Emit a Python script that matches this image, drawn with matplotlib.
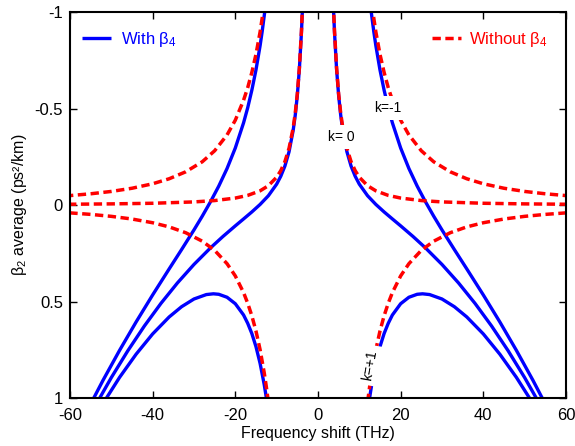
import matplotlib
matplotlib.use("Agg")
import matplotlib.pyplot as plt
from matplotlib.lines import Line2D

plt.rcParams['font.family'] = ['Liberation Sans', 'DejaVu Sans']
plt.rcParams['mathtext.fontset'] = 'custom'
plt.rcParams['mathtext.rm'] = 'Liberation Sans'
plt.rcParams['mathtext.it'] = 'Liberation Sans:italic'

# ---- data (positive-frequency branch; curves are symmetric in frequency shift) ----
# Without beta4 (red dashed)
red_k0_x = [3.7, 4, 4.5, 5, 5.5, 6, 7, 8, 9, 10, 12, 14, 17, 20, 25, 30, 40, 50, 60]
red_k0_y = [-1.052, -0.9, -0.711, -0.576, -0.476, -0.4, -0.294, -0.225, -0.178, -0.144,
            -0.1, -0.0735, -0.0498, -0.036, -0.023, -0.016, -0.009, -0.0058, -0.004]
red_km1_x = [13, 14, 15, 16, 17, 18, 20, 22, 25, 28, 32, 36, 40, 45, 50, 55, 60]
red_km1_y = [-1.040, -0.897, -0.781, -0.687, -0.608, -0.543, -0.4395, -0.363, -0.281, -0.224,
             -0.172, -0.136, -0.110, -0.0868, -0.0703, -0.0581, -0.0488]
red_kp1_x = [12, 12.5, 13, 14, 15, 16, 17, 18, 20, 22, 25, 28, 32, 36, 40, 45, 50, 55, 60]
red_kp1_y = [1.021, 0.941, 0.870, 0.75, 0.653, 0.574, 0.509, 0.454, 0.3675, 0.304, 0.235,
             0.1875, 0.1436, 0.1134, 0.0919, 0.0726, 0.0588, 0.0486, 0.0408]

# With beta4 (blue solid)
blue_k0_x = [3.75, 4, 4.5, 5, 5.5, 6, 7, 8, 9, 10, 12, 14, 16, 18, 20, 23, 26, 30, 34, 38, 42, 46, 50, 54]
blue_k0_y = [-1.019, -0.894, -0.704, -0.567, -0.465, -0.387, -0.276, -0.202, -0.149, -0.108,
             -0.048, -0.003, 0.0359, 0.0722, 0.108, 0.1632, 0.2221, 0.308, 0.4037, 0.5099,
             0.6269, 0.755, 0.8942, 1.045]
blue_km1_x = [12.8, 13.5, 14, 15, 16, 17, 18, 20, 22, 24, 26, 28, 30, 33, 36, 40, 44, 48, 52, 55]
blue_km1_y = [-1.014, -0.899, -0.826, -0.700, -0.595, -0.504, -0.426, -0.2955, -0.189, -0.098,
              -0.017, 0.058, 0.129, 0.231, 0.331, 0.466, 0.606, 0.753, 0.908, 1.031]
blue_kp1_x = [12.4, 13, 14, 15, 16, 17, 18, 20, 22, 24, 25.3, 27, 30, 33, 36, 40, 44, 48, 52]
blue_kp1_y = [1.011, 0.931, 0.821, 0.734, 0.666, 0.613, 0.570, 0.5115, 0.478, 0.4626, 0.4601,
              0.464, 0.487, 0.527, 0.580, 0.668, 0.773, 0.893, 1.028]

xticks = [-60, -40, -20, 0, 20, 40, 60]
xticklabels = ['-60', '-40', '-20', '0', '20', '40', '60']
yticks = [-1, -0.5, 0, 0.5, 1]
yticklabels = ['-1', '-0.5', '0', '0.5', '1']

labels = ['k= 0', 'k=-1', 'k=+1']
label_x = [5.6, 16.8, 12.6]
label_y = [-0.352, -0.503, 0.83]

BLUE = '#0000ff'
RED = '#ff0000'

fig = plt.figure(figsize=(5.75, 4.46), dpi=100)
ax = fig.add_axes([0.1217, 0.1076, 0.8626, 0.8655])

blue_kw = dict(color=BLUE, lw=2.4, solid_capstyle='butt', zorder=2)
red_kw = dict(color=RED, lw=2.5, linestyle=(0, (2.4, 1.3)), dash_capstyle='butt', zorder=2.5)

for xs, ys in [(blue_k0_x, blue_k0_y), (blue_km1_x, blue_km1_y), (blue_kp1_x, blue_kp1_y)]:
    ax.plot(xs, ys, **blue_kw)
    ax.plot([-v for v in xs], ys, **blue_kw)
for xs, ys in [(red_k0_x, red_k0_y), (red_km1_x, red_km1_y), (red_kp1_x, red_kp1_y)]:
    ax.plot(xs, ys, **red_kw)
    ax.plot([-v for v in xs], ys, **red_kw)

rots = [0, 0, 80]
for t, lx, ly, r in zip(labels, label_x, label_y, rots):
    ax.text(lx, ly, t, fontsize=10, ha='center', va='center', rotation=r, zorder=4,
            bbox=dict(boxstyle='square,pad=0.35', fc='white', ec='none'))

ax.set_xlim(-60, 60)
ax.set_ylim(1, -1)
ax.set_xticks(xticks)
ax.set_xticklabels(xticklabels)
ax.set_yticks(yticks)
ax.set_yticklabels(yticklabels)
ax.tick_params(direction='in', length=5, width=1, top=True, right=True, labelsize=12)
ax.tick_params(axis='x', pad=7)
ax.tick_params(axis='y', pad=5)
for s in ax.spines.values():
    s.set_linewidth(1.5)

ax.set_xlabel('Frequency shift (THz)', fontsize=11.5, labelpad=2)
ax.set_ylabel('β$_2$ average (ps²/km)', fontsize=11.5, labelpad=4)

h1 = Line2D([], [], **blue_kw)
h2 = Line2D([], [], **red_kw)
leg1 = ax.legend([h1], ['With β$_4$'], loc='upper left', frameon=False, fontsize=12,
                 handlelength=1.75, handletextpad=0.6, labelcolor=BLUE,
                 bbox_to_anchor=(0.0, 0.984), borderaxespad=0.3, borderpad=0.4)
ax.add_artist(leg1)
ax.legend([h2], ['Without β$_4$'], loc='upper right', frameon=False, fontsize=12,
          handlelength=1.75, handletextpad=0.45, labelcolor=RED,
          bbox_to_anchor=(0.986, 0.984), borderaxespad=0.3, borderpad=0.4)

fig.savefig('out.png', dpi=100)
